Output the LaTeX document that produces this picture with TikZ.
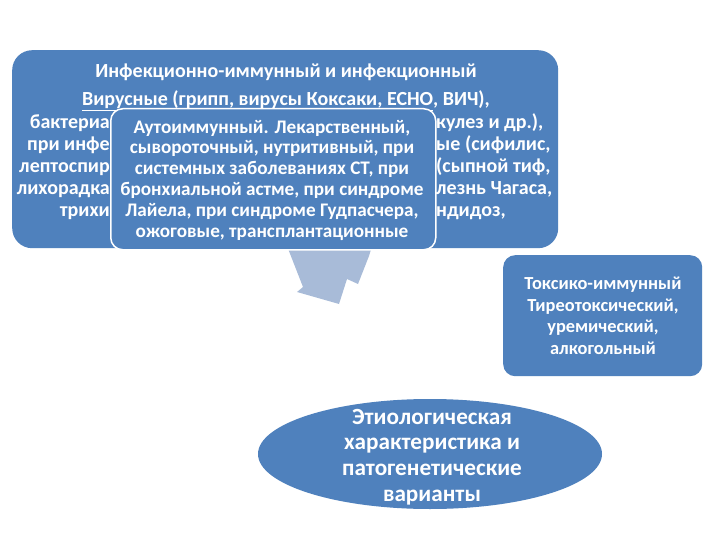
\documentclass[tikz,border=0pt]{standalone}
\usepackage{fontspec}
\setmainfont{Carlito}
\usetikzlibrary{shapes.geometric}
\definecolor{boxblue}{RGB}{79,129,189}
\definecolor{arrowblue}{RGB}{168,187,216}
\begin{document}
\begin{tikzpicture}[x=1pt,y=-1pt,
  panel/.style={fill=boxblue, draw=none, inner sep=0pt, anchor=north west},
  wtext/.style={text=white, align=center, inner sep=0pt},
  bigfont/.style={font=\bfseries\fontsize{20}{22.5}\selectfont},
  leftfrag/.style={wtext, bigfont, anchor=base east},
  rightfrag/.style={wtext, bigfont, anchor=base west},
  midfont/.style={font=\bfseries\fontsize{19.2}{20.8}\selectfont},
  toxfont/.style={font=\bfseries\fontsize{18.4}{21.5}\selectfont},
  ellfont/.style={font=\bfseries\fontsize{23.2}{25.6}\selectfont}]
\useasboundingbox (0,0) rectangle (720,540);
\fill[white] (0,0) rectangle (720,540);
% arrow shape behind the boxes
\fill[arrowblue] (287,246) -- (372,246) -- (369,256) -- (358,284) -- (347,279)
  -- (339,304) -- (297,292) -- (303,287) -- cycle;
% large box
\node[panel, rounded corners=20pt, minimum width=546pt, minimum height=198pt] (infect) at (12,50) {};
\node[wtext, bigfont, anchor=base] (infhead) at (286,78) {Инфекционно-иммунный и инфекционный};
\node[wtext, bigfont, anchor=base] (virus) at (286,106) {\underline{Вирусные (грипп, вирусы Коксаки, ECHO}, ВИЧ),};
\node[leftfrag] (l1) at (110,129) {бактериа};
\node[leftfrag] (l2) at (110,151) {при инфе};
\node[leftfrag] (l3) at (110,173) {лептоспир};
\node[leftfrag] (l4) at (110,195) {лихорадка};
\node[leftfrag] (l5) at (110,217) {трихи};
\node[rightfrag] (r1) at (436,129) {кулез и др.),};
\node[rightfrag] (r2) at (436,151) {ые (сифилис,};
\node[rightfrag] (r3) at (436,173) {(сыпной тиф,};
\node[rightfrag] (r4) at (436,195) {лезнь Чагаса,};
\node[rightfrag] (r5) at (436,217) {ндидоз,};
% inner box
\node[panel, draw=white, line width=1.5pt, rounded corners=12pt, minimum width=325pt, minimum height=141pt] (auto) at (110,108) {};
\node[wtext, midfont] (autotext) at (272,180) {Аутоиммунный. Лекарственный,\\
  сывороточный, нутритивный, при\\
  системных заболеваниях СТ, при\\
  бронхиальной астме, при синдроме\\
  Лайела, при синдроме Гудпасчера,\\
  ожоговые, трансплантационные};
% toxic box
\node[panel, rounded corners=12pt, minimum width=199pt, minimum height=121pt] (toxic) at (503,255) {};
\node[wtext, toxfont] (toxictext) at (603,316) {Токсико-иммунный\\
  Тиреотоксический,\\
  уремический,\\
  алкогольный};
% ellipse
\node[ellipse, fill=boxblue, inner sep=0pt, minimum width=344pt, minimum height=110pt] (etio) at (430,454) {};
\node[wtext, ellfont] (etiotext) at (432,457) {Этиологическая\\
  характеристика и\\
  патогенетические\\
  варианты};
\end{tikzpicture}
\end{document}
